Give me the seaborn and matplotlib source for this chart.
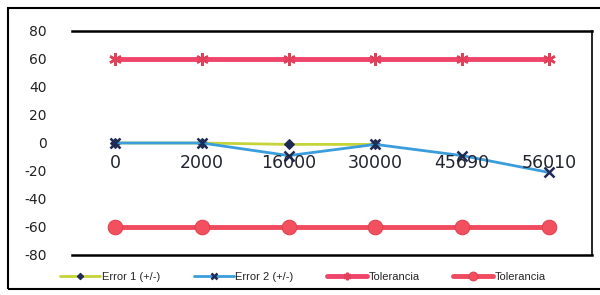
import numpy as np
import pandas as pd
import matplotlib
matplotlib.use("Agg")
import matplotlib.pyplot as plt
import seaborn as sns
from matplotlib.patches import Rectangle

# valores
categorias = ["0", "2000", "16000", "30000", "45690", "56010"]
error1 = [0, 0, -1, -1, np.nan, np.nan]
error2 = [0, 0, -9, -1, -9, -21]
tol_sup = [60, 60, 60, 60, 60, 60]
tol_inf = [-60, -60, -60, -60, -60, -60]
yticks = [80, 60, 40, 20, 0, -20, -40, -60, -80]

sns.set_style("white")
plt.rcParams['font.family'] = ['DejaVu Sans']

fig = plt.figure(figsize=(6, 2.95), dpi=100)
ax = fig.add_axes([0.12, 1 - 255 / 295, 0.867, 224 / 295])

pos = np.arange(len(categorias))
df = pd.DataFrame({'pos': pos, 'e1': error1, 'e2': error2, 'ts': tol_sup, 'ti': tol_inf})

d1 = df.dropna(subset=['e1'])
sns.lineplot(data=d1, x='pos', y='e1', ax=ax, color='#c5d43a', lw=2,
             marker='D', markersize=5.5, markerfacecolor='#1f2a55', markeredgecolor='#1f2a55',
             label='Error 1 (+/-)', zorder=3)
sns.lineplot(data=df, x='pos', y='e2', ax=ax, color='#3b9ddb', lw=2,
             marker='x', markersize=7, markeredgewidth=1.8, markeredgecolor='#1f2a55',
             label='Error 2 (+/-)', zorder=4)
sns.lineplot(data=df, x='pos', y='ts', ax=ax, color='#f0456a', lw=3.5,
             marker=(6, 2, 0), markersize=9, markeredgewidth=1.8, markeredgecolor='#e0405a',
             label='Tolerancia', zorder=3)
sns.lineplot(data=df, x='pos', y='ti', ax=ax, color='#f04a5e', lw=3.5,
             marker='o', markersize=10.5, markerfacecolor='#f2505e', markeredgecolor='#e0404f',
             label='Tolerancia', zorder=3)

ax.set_xlim(-0.5, len(categorias) - 0.5)
ax.set_ylim(-80, 80)
ax.set_yticks(yticks)
ax.set_yticklabels([str(v) for v in yticks], fontsize=10, color='#222222')
ax.tick_params(axis='y', length=0, pad=18)
ax.set_xticks(pos)
ax.tick_params(axis='x', length=0, labelbottom=False)
ax.set_xlabel('')
ax.set_ylabel('')

# rotulos do eixo x logo abaixo do zero
for p, c in zip(pos, categorias):
    ax.text(p, -14, c, ha='center', va='center', fontsize=12.5, color='#22252f', zorder=5)

ax.spines['left'].set_visible(False)
for s in ['top', 'bottom']:
    ax.spines[s].set_color('black')
    ax.spines[s].set_linewidth(1.8)
ax.spines['right'].set_color('black')
ax.spines['right'].set_linewidth(1.2)

ax.legend(loc='center', bbox_to_anchor=(0.505, 0.061), bbox_transform=fig.transFigure,
          ncol=4, frameon=False, handlelength=3.6, handletextpad=0.15, columnspacing=3.0,
          markerscale=0.6, prop={'family': 'Liberation Sans', 'size': 8})

fig.patches.append(Rectangle((8 / 600, 6 / 295), 1.0, 1 - 14 / 295, transform=fig.transFigure,
                             fill=False, edgecolor='black', linewidth=1.5))

fig.savefig('out.png', dpi=100)
